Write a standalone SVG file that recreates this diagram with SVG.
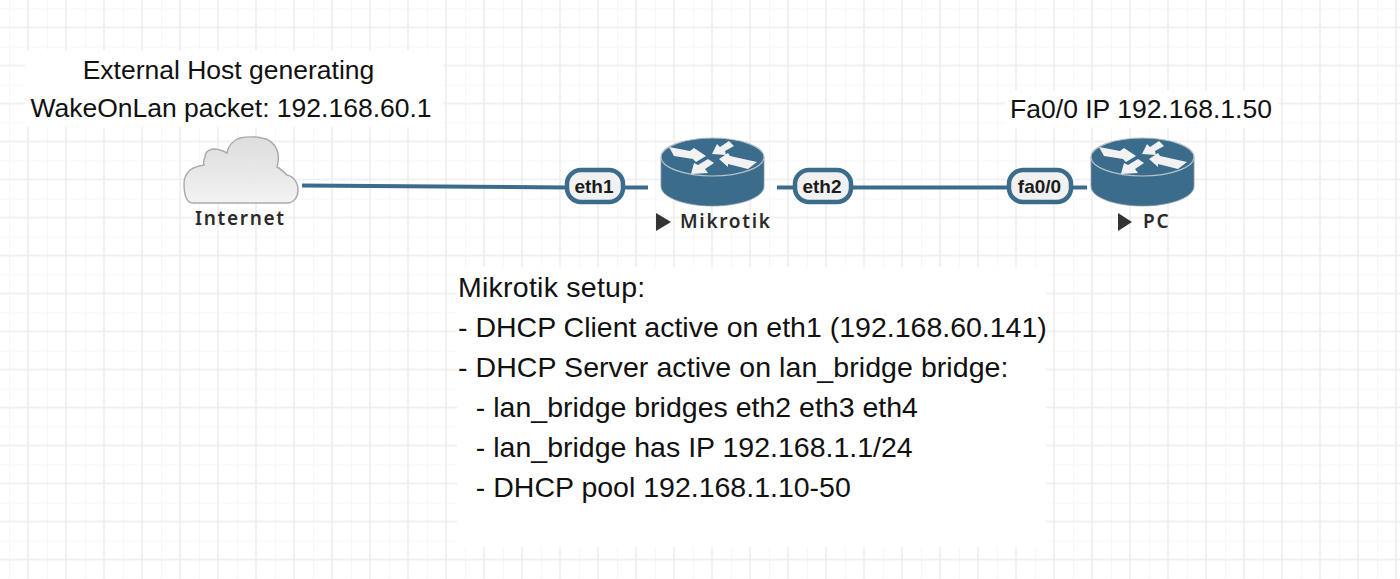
<svg xmlns="http://www.w3.org/2000/svg" width="1400" height="579" viewBox="0 0 1400 579">
<style>
.note{font-family:"Liberation Sans",Arial,sans-serif;font-size:26.500px;fill:#111}
.big{font-size:28.500px}
.link{stroke:#3c6c8c;stroke-width:4;fill:none}
.pill{fill:#f1f1f1;stroke:#3c6c8c;stroke-width:4.500}
.port{font-family:"Liberation Sans",Arial,sans-serif;font-size:19px;font-weight:bold;fill:#1c1c1c;text-anchor:middle}
.name{font-family:"Noto Sans",sans-serif;font-size:19px;font-weight:600;fill:#2a2a2a;letter-spacing:1.700px}
.tri{fill:#333}
.wb{fill:#fff}
</style>
<defs>
<pattern id="grid" width="38" height="38" patternUnits="userSpaceOnUse" x="9" y="8.500">
<path d="M0 0H38" fill="none" stroke="#f4f4f4" stroke-width="1.500"/>
<path d="M0 0V38" fill="none" stroke="#f4f4f4" stroke-width="1.500"/>
<path d="M0 19H38" fill="none" stroke="#ededed" stroke-width="1.500"/>
<path d="M19 0V38" fill="none" stroke="#ededed" stroke-width="1.500"/>
</pattern>
<linearGradient id="cloudFill" x1="0" y1="0" x2="0" y2="1">
<stop offset="0" stop-color="#dedede"/><stop offset="0.55" stop-color="#e8e8e8"/><stop offset="1" stop-color="#f3f3f3"/>
</linearGradient>
<g id="router">
<path d="M0 19V48C0 60 25 68 51.500 68C78 68 103 60 103 48V19Z" fill="#3c6c8c" stroke="#8a9aa6" stroke-width="0.800"/>
<ellipse cx="51.500" cy="19" rx="51.500" ry="19" fill="#3c6c8c" stroke="#b9c2c8" stroke-width="1.200"/>
<g fill="#f2f2f2">
<polygon points="8,9 29,13 33,10 45,18 35,24 32,21 13,18"/>
<polygon points="51,16 56,6 59,9 68,3 73,8 64,13 65,17"/>
<polygon points="58,21 67,15 69,18 96,24 87,31 67,26 67,29"/>
<polygon points="30,36 33,25 37,27 47,21 53,25 44,31 47,35"/>
</g>
</g>
</defs>
<rect width="1400" height="579" fill="#fff"/>
<rect width="1400" height="579" fill="url(#grid)"/>
<rect class="wb" x="25" y="50" width="418" height="77"/>
<rect class="wb" x="1005" y="90" width="273" height="38"/>
<rect class="wb" x="457" y="267" width="589" height="280"/>
<g id="connectors">
<path class="link" d="M302 185.500L568 187.500"/>
<path class="link" d="M624 187.500H648"/>
<path class="link" d="M777 187.500H795"/>
<path class="link" d="M852 187.500H1008"/>
<path class="link" d="M1072 187.500H1087"/>
</g>
<g id="node-internet">
<path d="M193 203H287C294 203 298 197 298 190C298 182 293 176 287 175C284 172 281 169 277 167C279 160 279 155 277 150C274 143 269 139 262 138C256 136.500 246 136.500 240 138C233 140 228 146 227 153C222 150 218 149 213 149C208 150 205 153 205 157C204 160 203 162 204 165C197 166 193 168 190 170C186 174 184 178 184 183C184 194 186 203 193 203Z" fill="url(#cloudFill)" stroke="#a8acb0" stroke-width="1.500"/>
<text class="name" x="195" y="225">Internet</text>
</g>
<g id="node-mikrotik">
<use href="#router" x="661" y="138"/>
<polygon class="tri" points="656,213 671,222 656,231"/>
<text class="name" x="680" y="228">Mikrotik</text>
</g>
<g id="node-pc">
<use href="#router" x="1091" y="138"/>
<polygon class="tri" points="1118,213 1132,222 1118,231"/>
<text class="name" x="1143" y="228">PC</text>
</g>
<g id="port-eth1"><rect class="pill" x="567" y="170" width="56" height="32" rx="14"/><text class="port" x="594" y="193">eth1</text></g>
<g id="port-eth2"><rect class="pill" x="795" y="170" width="56" height="32" rx="14"/><text class="port" x="822" y="193">eth2</text></g>
<g id="port-fa0"><rect class="pill" x="1009" y="170" width="62" height="32" rx="14"/><text class="port" x="1039.500" y="193">fa0/0</text></g>
<g id="note-host">
<text class="note" text-anchor="middle" x="228.500" y="79">External Host generating</text>
<text class="note" text-anchor="middle" x="231" y="117">WakeOnLan packet: 192.168.60.1</text>
</g>
<g id="note-pc"><text class="note" text-anchor="middle" x="1141" y="118">Fa0/0 IP 192.168.1.50</text></g>
<g id="note-mikrotik">
<text class="note big" x="458" y="297" letter-spacing="0.250">Mikrotik setup:</text>
<text class="note big" x="458" y="337">- DHCP Client active on eth1 (192.168.60.141)</text>
<text class="note big" x="458" y="377" letter-spacing="0.070">- DHCP Server active on lan_bridge bridge:</text>
<text class="note big" x="460" y="417" xml:space="preserve">  - lan_bridge bridges eth2 eth3 eth4</text>
<text class="note big" x="460" y="457" xml:space="preserve">  - lan_bridge has IP 192.168.1.1/24</text>
<text class="note big" x="460" y="497" xml:space="preserve">  - DHCP pool 192.168.1.10-50</text>
</g>
</svg>
